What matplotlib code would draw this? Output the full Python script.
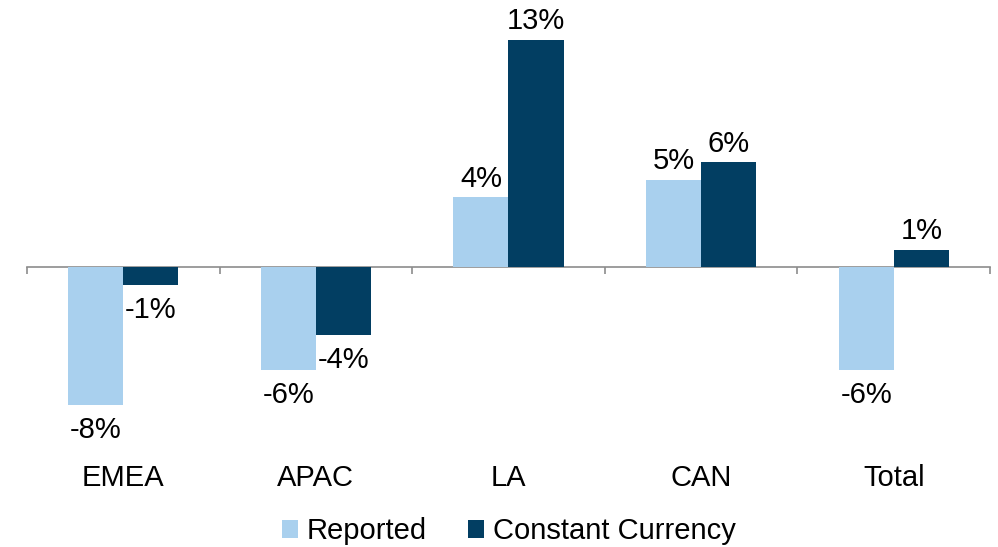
import numpy as np
import matplotlib.pyplot as plt
from matplotlib.transforms import blended_transform_factory

# data
regions = ["EMEA", "APAC", "LA", "CAN", "Total"]
reported = [-7.9, -5.9, 4.0, 5.0, -5.9]
constant = [-1.0, -3.9, 13.0, 6.0, 1.0]
reported_lbl = ["-8%", "-6%", "4%", "5%", "-6%"]
constant_lbl = ["-1%", "-4%", "13%", "6%", "1%"]

plt.rcParams['font.family'] = ['Liberation Sans', 'DejaVu Sans']

light = '#A9D0EE'
dark = '#023E62'
fs = 21

fig = plt.figure(figsize=(9.98, 5.47), dpi=100)
ax = fig.add_axes([0.027, 0.1956, 0.965, 0.7678])

x = np.arange(len(regions))
w = 0.286
b1 = ax.bar(x - w/2, reported, w, color=light, label='Reported')
b2 = ax.bar(x + w/2, constant, w, color=dark, label='Constant Currency')

for bars, labels in ((b1, reported_lbl), (b2, constant_lbl)):
    for bar, lbl in zip(bars, labels):
        h = bar.get_height()
        cx = bar.get_x() + bar.get_width()/2
        if h >= 0:
            ax.annotate(lbl, (cx, h), xytext=(0, 3), textcoords='offset points',
                        ha='center', va='bottom', fontsize=fs)
        else:
            ax.annotate(lbl, (cx, h), xytext=(0, -8), textcoords='offset points',
                        ha='center', va='top', fontsize=fs)

ax.set_xlim(-0.5, len(regions) - 0.5)
ax.set_ylim(-9.886, 14.114)

for s in ['top', 'right', 'left']:
    ax.spines[s].set_visible(False)
ax.spines['bottom'].set_position(('data', 0))
ax.spines['bottom'].set_color('#8c8c8c')
ax.spines['bottom'].set_linewidth(1.2)
ax.spines['bottom'].set_zorder(0)
ax.set_yticks([])
ax.set_xticks(np.arange(-0.5, len(regions)))
ax.set_xticklabels([])
ax.tick_params(axis='x', direction='out', length=5, width=1.2, color='#8c8c8c')

trans = blended_transform_factory(ax.transData, ax.transAxes)
for xi, name in zip(x, regions):
    ax.text(xi, -0.09, name, transform=trans, ha='center', va='center', fontsize=fs)

fig.legend(loc='lower center', bbox_to_anchor=(0.51, -0.045), ncol=2, frameon=False,
           fontsize=fs, handlelength=0.55, handleheight=0.55, handletextpad=0.3,
           columnspacing=1.4)

fig.savefig('out.png', dpi=100)
